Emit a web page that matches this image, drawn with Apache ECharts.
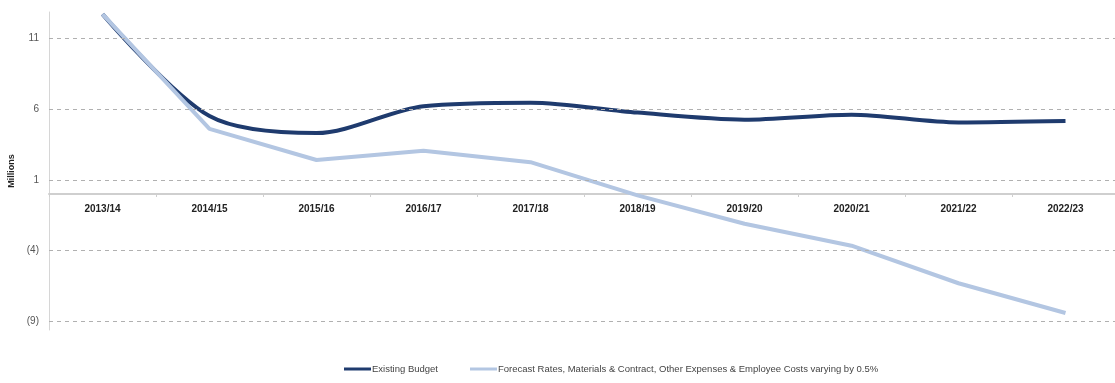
<!DOCTYPE html>
<html>
<head>
<meta charset="utf-8">
<script src="https://cdn.jsdelivr.net/npm/echarts@6/dist/echarts.min.js"></script>
<style>
  html, body { margin: 0; padding: 0; background: #ffffff; }
  #chart { width: 1115px; height: 383px; }
</style>
</head>
<body>
<div id="chart"></div>
<script>
// Financial years on the category axis
const years = ['2013/14', '2014/15', '2015/16', '2016/17', '2017/18',
               '2018/19', '2019/20', '2020/21', '2021/22', '2022/23'];

// Values in millions
const existingBudget = [12.7, 5.5, 4.3, 6.2, 6.45, 5.75, 5.25, 5.6, 5.05, 5.15];
const forecastVarying = [12.7, 4.6, 2.4, 3.05, 2.25, -0.1, -2.1, -3.65, -6.3, -8.4];

// Value-axis ticks, shown with negatives in brackets
const yTicks = [-9, -4, 1, 6, 11];

const seriesNames = [
  'Existing Budget',
  'Forecast Rates, Materials & Contract, Other Expenses & Employee Costs varying by 0.5%'
];

const narrow = '"Liberation Sans Narrow", "Arial Narrow", "Liberation Sans", sans-serif';

// Plot area and value range
const gridTop = 12, gridHeight = 318;
const yMin = -9.6, yMax = 12.85;
// Distance from the bottom of the plot up to the zero line, so the
// category axis (line, ticks and labels) sits on zero
const zeroOffset = -gridHeight * (0 - yMin) / (yMax - yMin);

const chart = echarts.init(document.getElementById('chart'));

chart.setOption({
  animation: false,
  backgroundColor: '#ffffff',
  grid: {
    left: 49, top: gridTop, width: 1070, height: gridHeight,
    containLabel: false, outerBoundsMode: 'none'
  },
  legend: {
    left: 344,
    top: 364,
    padding: 0,
    itemWidth: 27,
    itemHeight: 3,
    itemGap: 32,
    icon: 'rect',
    textStyle: { fontFamily: narrow, fontSize: 9.5, color: '#444', padding: [0, 0, 0, -4] },
    data: seriesNames
  },
  xAxis: {
    type: 'category',
    data: years,
    boundaryGap: true,
    position: 'bottom',
    offset: zeroOffset,
    axisLine: { onZero: false, lineStyle: { color: '#cfcfcf', width: 2 } },
    axisTick: { show: true, length: 3, lineStyle: { color: '#cfcfcf' } },
    axisLabel: {
      margin: 10,
      fontFamily: narrow,
      fontWeight: 'bold',
      fontSize: 10,
      color: '#222'
    },
    splitLine: { show: false }
  },
  yAxis: {
    type: 'value',
    min: yMin,
    max: yMax,
    name: 'Millions',
    nameLocation: 'middle',
    nameGap: 33,
    nameRotate: 90,
    nameTextStyle: { fontFamily: narrow, fontWeight: 'bold', fontSize: 9, color: '#222' },
    axisLine: { show: true, lineStyle: { color: '#d6d6d6', width: 1 } },
    axisTick: { show: false },
    splitLine: { show: false },
    axisLabel: {
      customValues: yTicks,
      margin: 10,
      fontFamily: narrow,
      fontSize: 10,
      color: '#555',
      formatter: v => (v < 0 ? '(' + (-v) + ')' : String(v))
    }
  },
  series: [
    {
      name: seriesNames[0],
      type: 'line',
      data: existingBudget,
      smooth: 0.3,
      symbol: 'none',
      lineStyle: { color: '#1f3b6e', width: 4 },
      itemStyle: { color: '#1f3b6e' },
      z: 3,
      markLine: {
        silent: true,
        symbol: 'none',
        label: { show: false },
        lineStyle: { color: '#b0b0b0', type: [4, 4], width: 1 },
        data: yTicks.map(v => ({ yAxis: v }))
      }
    },
    {
      name: seriesNames[1],
      type: 'line',
      data: forecastVarying,
      smooth: false,
      symbol: 'none',
      lineStyle: { color: '#b3c6e2', width: 4 },
      itemStyle: { color: '#b3c6e2' },
      z: 4
    }
  ]
});
</script>
</body>
</html>
